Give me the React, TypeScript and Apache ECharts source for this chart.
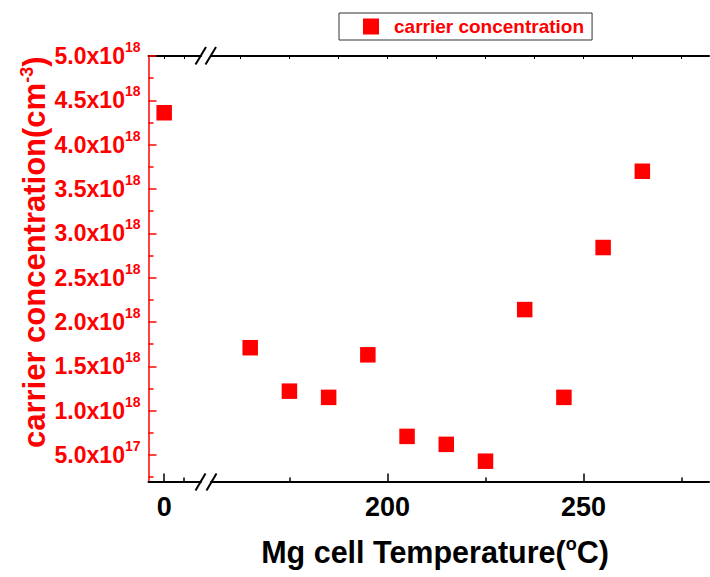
import React, { useEffect, useRef } from "react";
import * as echarts from "echarts";

// Mg cell temperature (°C) and carrier concentration (×10^18 cm^-3)
const temperatures = [0, 165, 175, 185, 195, 205, 215, 225, 235, 245, 255, 265];
const concentration = [4.36, 1.71, 1.22, 1.15, 1.63, 0.71, 0.62, 0.43, 2.14, 1.15, 2.84, 3.7];

const yTickValues = [0.5, 1.0, 1.5, 2.0, 2.5, 3.0, 3.5, 4.0, 4.5, 5.0];
const yMinorTicks = [0.25, 0.75, 1.25, 1.75, 2.25, 2.75, 3.25, 3.75, 4.25, 4.75];
const xLabelsLeft = [0];
const xMinorLeft = [5];
const xTopLeft = [0, 5];
const xLabelsRight = [200, 250];
const xMinorRight = [175, 225, 275];
const xTopRight = [162.5, 175, 187.5, 200, 212.5, 225, 237.5, 250, 262.5, 275];

const FONT = '"Liberation Sans", Arial, sans-serif';
const RED = "#ff0000";

export default function App() {
  const ref = useRef<HTMLDivElement>(null);

  useEffect(() => {
    if (!ref.current) return;
    const chart = echarts.init(ref.current, undefined, { renderer: "svg" });

    const leftData: number[][] = [];
    const rightData: number[][] = [];
    temperatures.forEach((t, i) => {
      if (t < 100) leftData.push([t, concentration[i]]);
      else rightData.push([t, concentration[i]]);
    });

    const top = 56;
    const height = 425.6;
    const yMin = 0.2;
    const yMax = 5.0;

    const blackLine = { show: true, onZero: false, lineStyle: { color: "#000", width: 2 } };
    const noLine = { show: false, onZero: false };

    const xBase = (gridIndex: number, min: number, max: number) => ({
      type: "value" as const,
      gridIndex,
      min,
      max,
      splitLine: { show: false },
    });

    const xLabelStyle = {
      fontSize: 27,
      fontWeight: "bold" as const,
      color: "#000",
      fontFamily: FONT,
      margin: 12,
    };

    const option: any = {
      animation: false,
      backgroundColor: "#fff",
      legend: {
        left: 339,
        top: 13,
        data: ["carrier concentration"],
        icon: "rect",
        itemWidth: 16,
        itemHeight: 16,
        borderColor: "#333",
        borderWidth: 1,
        padding: [4, 8, 4, 24],
        textStyle: {
          color: RED,
          fontSize: 19,
          fontWeight: "bold",
          fontFamily: FONT,
          padding: [0, 0, 0, 10],
        },
      },
      grid: [
        { left: 148.5, top, width: 52.5, height },
        { left: 211, top, width: 498, height },
      ],
      xAxis: [
        {
          ...xBase(0, -4, 9.4),
          position: "bottom",
          axisLine: blackLine,
          axisTick: { show: true, inside: true, length: 8, customValues: xLabelsLeft, lineStyle: { color: "#000", width: 1.5 } },
          axisLabel: { ...xLabelStyle, customValues: xLabelsLeft },
        },
        {
          ...xBase(0, -4, 9.4),
          position: "bottom",
          axisLine: noLine,
          axisTick: { show: true, inside: true, length: 4, customValues: xMinorLeft, lineStyle: { color: "#000", width: 1.5 } },
          axisLabel: { show: false },
        },
        {
          ...xBase(0, -4, 9.4),
          position: "top",
          axisLine: blackLine,
          axisTick: { show: true, inside: true, length: 3, customValues: xTopLeft, lineStyle: { color: "#000", width: 1 } },
          axisLabel: { show: false },
        },
        {
          ...xBase(1, 155, 282),
          position: "bottom",
          axisLine: blackLine,
          axisTick: { show: true, inside: true, length: 8, customValues: xLabelsRight, lineStyle: { color: "#000", width: 1.5 } },
          axisLabel: { ...xLabelStyle, customValues: xLabelsRight },
          name: "{a|Mg cell Temperature(}{s|o}{a|C)}",
          nameLocation: "middle",
          nameGap: 53,
          nameTextStyle: {
            padding: [0, 50, 0, 0],
            rich: {
              a: { fontSize: 30.5, fontWeight: "bold", color: "#000", fontFamily: FONT },
              s: { fontSize: 18, fontWeight: "bold", color: "#000", fontFamily: FONT, padding: [0, 0, 16, 0] },
            },
          },
        },
        {
          ...xBase(1, 155, 282),
          position: "bottom",
          axisLine: noLine,
          axisTick: { show: true, inside: true, length: 4, customValues: xMinorRight, lineStyle: { color: "#000", width: 1.5 } },
          axisLabel: { show: false },
        },
        {
          ...xBase(1, 155, 282),
          position: "top",
          axisLine: blackLine,
          axisTick: { show: true, inside: true, length: 3, customValues: xTopRight, lineStyle: { color: "#000", width: 1 } },
          axisLabel: { show: false },
        },
      ],
      yAxis: [
        {
          type: "value",
          gridIndex: 0,
          min: yMin,
          max: yMax,
          position: "left",
          splitLine: { show: false },
          axisLine: { show: true, onZero: false, lineStyle: { color: RED, width: 1.5 } },
          axisTick: { show: true, inside: true, length: 8, customValues: yTickValues, lineStyle: { color: RED, width: 1.5 } },
          axisLabel: {
            customValues: yTickValues,
            margin: 8,
            fontSize: 23,
            fontWeight: "bold",
            color: RED,
            fontFamily: FONT,
            formatter: (v: number) => {
              const exp = v < 1 ? 17 : 18;
              const mant = v < 1 ? v * 10 : v;
              return `${mant.toFixed(1)}x10{s|${exp}}`;
            },
            rich: {
              s: { fontSize: 14, fontWeight: "bold", color: RED, fontFamily: FONT, padding: [0, 0, 18, 0] },
            },
          },
          name: "{a|carrier concentration(cm}{s|-3}{a|)}",
          nameLocation: "middle",
          nameRotate: 90,
          nameGap: 97,
          nameTextStyle: {
            padding: [0, 0, 0, 33],
            rich: {
              a: { fontSize: 31, fontWeight: "bold", color: RED, fontFamily: FONT },
              s: { fontSize: 18, fontWeight: "bold", color: RED, fontFamily: FONT, padding: [0, 0, 16, 0] },
            },
          },
        },
        {
          type: "value",
          gridIndex: 0,
          min: yMin,
          max: yMax,
          position: "left",
          splitLine: { show: false },
          axisLine: { show: false, onZero: false },
          axisTick: { show: true, inside: true, length: 5, customValues: yMinorTicks, lineStyle: { color: RED, width: 1.5 } },
          axisLabel: { show: false },
        },
        {
          type: "value",
          gridIndex: 1,
          min: yMin,
          max: yMax,
          show: false,
          axisLine: { onZero: false },
        },
      ],
      series: [
        {
          name: "carrier concentration",
          type: "scatter",
          xAxisIndex: 0,
          yAxisIndex: 0,
          symbol: "rect",
          symbolSize: 15.5,
          itemStyle: { color: RED, opacity: 1 },
          data: leftData,
        },
        {
          name: "carrier concentration",
          type: "scatter",
          xAxisIndex: 3,
          yAxisIndex: 2,
          symbol: "rect",
          symbolSize: 15.5,
          itemStyle: { color: RED, opacity: 1 },
          data: rightData,
        },
      ],
      graphic: [
        { type: "line", shape: { x1: 195.5, y1: 64.5, x2: 206, y2: 47 }, style: { stroke: "#000", lineWidth: 2 } },
        { type: "line", shape: { x1: 205.5, y1: 64.5, x2: 216, y2: 47 }, style: { stroke: "#000", lineWidth: 2 } },
        { type: "line", shape: { x1: 195.5, y1: 490.5, x2: 205.5, y2: 473.5 }, style: { stroke: "#000", lineWidth: 2 } },
        { type: "line", shape: { x1: 206.5, y1: 490.5, x2: 216.5, y2: 473.5 }, style: { stroke: "#000", lineWidth: 2 } },
      ],
    };

    chart.setOption(option);
    return () => chart.dispose();
  }, []);

  return (
    <div
      ref={ref}
      style={{ position: "fixed", left: 0, top: 0, width: 710, height: 577, background: "#fff" }}
    />
  );
}
